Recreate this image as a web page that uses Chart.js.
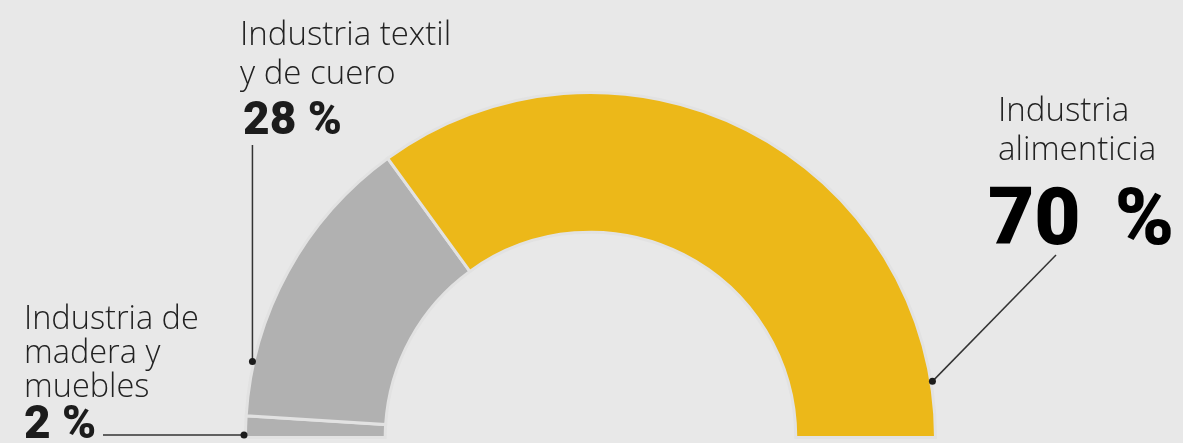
<!DOCTYPE html>
<html><head><meta charset="utf-8">
<script src="https://cdn.jsdelivr.net/npm/chart.js@4"></script>
<style>
html,body{margin:0;padding:0;background:#e8e8e8;width:1183px;height:443px;overflow:hidden;}
#wrap{position:relative;width:1183px;height:443px;}
canvas{position:absolute;left:0;top:0;}
.lbl{position:absolute;font-family:"Open Sans",sans-serif;font-weight:300;color:#222;white-space:nowrap;}
.num{position:absolute;font-family:Roboto,"Open Sans",sans-serif;font-weight:900;color:#1c1c1c;white-space:nowrap;}
</style></head>
<body><div id="wrap"><canvas id="c" width="1183" height="443"></canvas>
<div class="lbl" id="l0" style="left:24px;top:300px;font-size:32.5px;line-height:34px;"></div>
<div class="num" id="n0" style="left:24px;top:399px;font-size:46px;line-height:46px;"></div>
<div class="lbl" id="l1" style="left:240px;top:13px;font-size:33px;line-height:39px;"></div>
<div class="num" id="n1" style="left:243px;top:95px;font-size:46px;line-height:46px;"></div>
<div class="lbl" id="l2" style="left:998px;top:89px;font-size:33px;line-height:39px;"></div>
<div class="num" id="n2" style="left:988px;top:177px;font-size:80px;line-height:80px;word-spacing:14px;color:#000;"></div>
</div>
<script>
// Data
const categories = ["Industria de madera y muebles", "Industria textil y de cuero", "Industria alimenticia"];
const labelLines = [["Industria de", "madera y", "muebles"], ["Industria textil", "y de cuero"], ["Industria", "alimenticia"]];
const values = [2, 28, 70];
const valueLabels = ["2 %", "28 %", "70 %"];
const colors = ["#b1b1b1", "#b1b1b1", "#ecb819"];

// Annotation anchors (leader lines): fraction along arc, and label end point
const leaderFrac = [0.11, 0.18, 0.926];
const leaderEnd = [[103, null], [null, 145], [1056, 255]];

for (let i = 0; i < 3; i++) {
  document.getElementById('l' + i).innerHTML = labelLines[i].map(s => '<div>' + s + '</div>').join('');
  document.getElementById('n' + i).textContent = valueLabels[i];
}

const leaders = {
  id: 'leaders',
  afterDatasetsDraw(chart) {
    const ctx = chart.ctx;
    const arcs = chart.getDatasetMeta(0).data;
    arcs.forEach((arc, i) => {
      const p = arc.getProps(['x', 'y', 'startAngle', 'endAngle', 'outerRadius'], true);
      const a = p.startAngle + leaderFrac[i] * (p.endAngle - p.startAngle);
      const r = p.outerRadius + 1.5;
      const dx = p.x + Math.cos(a) * r, dy = p.y + Math.sin(a) * r;
      let ex = leaderEnd[i][0], ey = leaderEnd[i][1];
      if (ex === null) ex = dx;
      if (ey === null) ey = dy;
      ctx.save();
      ctx.strokeStyle = '#333';
      ctx.lineWidth = 1.5;
      ctx.beginPath(); ctx.moveTo(dx, dy); ctx.lineTo(ex, ey); ctx.stroke();
      ctx.fillStyle = '#1c1c1c';
      ctx.beginPath(); ctx.arc(dx, dy, 3.5, 0, Math.PI * 2); ctx.fill();
      ctx.restore();
    });
  }
};

new Chart(document.getElementById('c'), {
  type: 'doughnut',
  data: {
    labels: categories,
    datasets: [{
      data: values,
      backgroundColor: colors,
      borderColor: '#e2e2e2',
      borderWidth: 3,
      hoverBorderWidth: 3,
      hoverOffset: 0,
      offset: 0,
      borderJoinStyle: 'miter'
    }]
  },
  options: {
    responsive: false,
    animation: false,
    events: [],
    rotation: -90,
    circumference: 180,
    cutout: '59.5%',
    layout: { padding: { left: 244, right: 246, top: 91, bottom: 4 } },
    plugins: { legend: { display: false }, tooltip: { enabled: false } }
  },
  plugins: [leaders]
});
</script>
</body></html>
